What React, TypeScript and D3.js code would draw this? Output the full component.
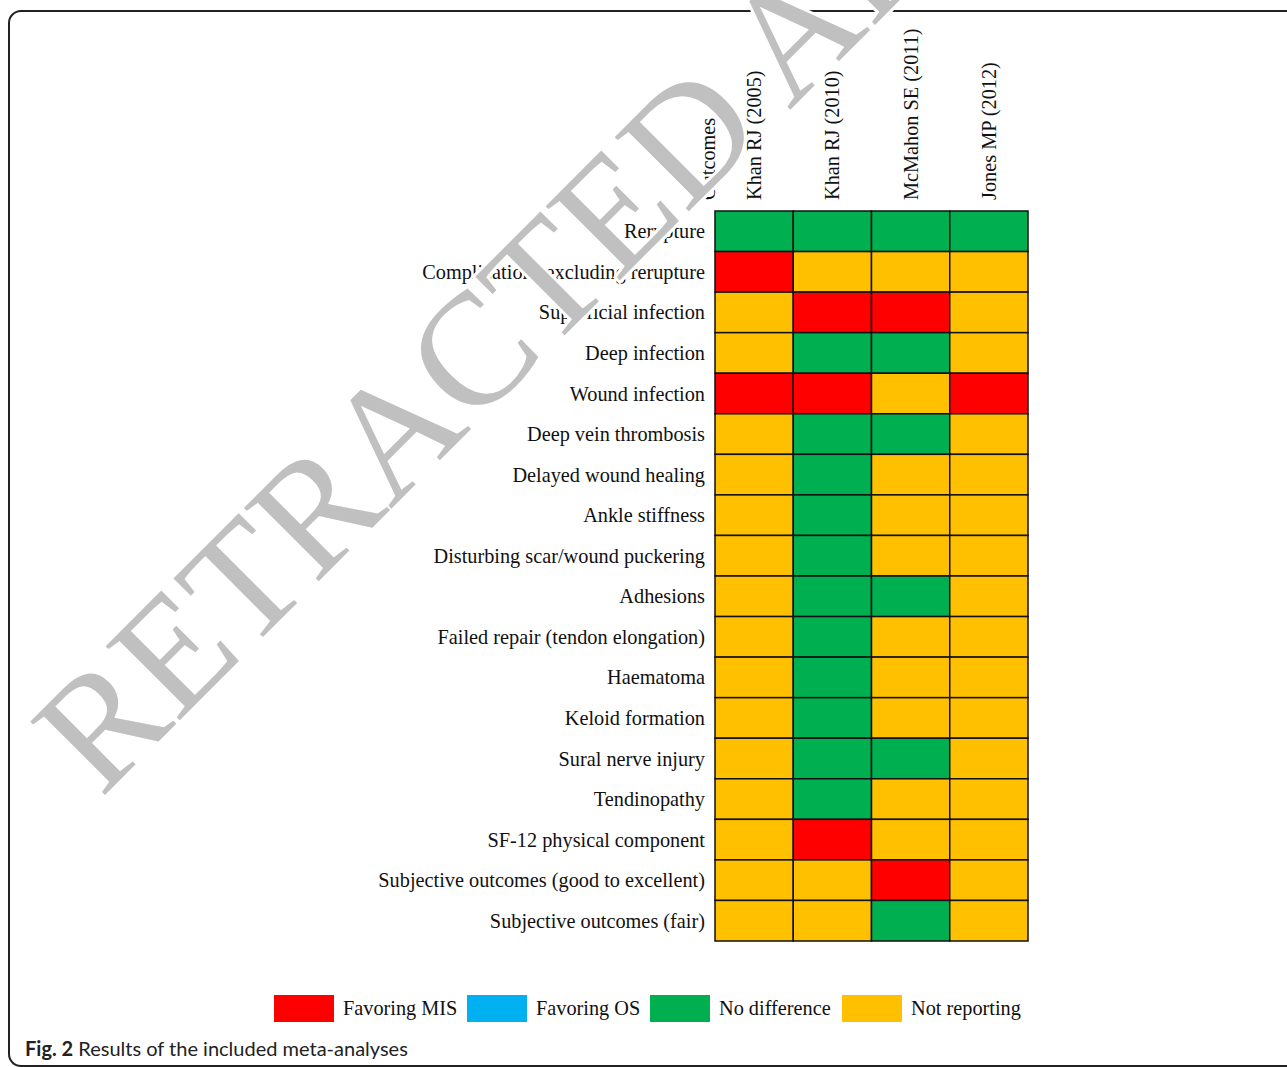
import React from "react";
import * as d3 from "d3";

const studies = ["Khan RJ (2005)", "Khan RJ (2010)", "McMahon SE (2011)", "Jones MP (2012)"];
const outcomes = [
  "Rerupture",
  "Complications excluding rerupture",
  "Superficial infection",
  "Deep infection",
  "Wound infection",
  "Deep vein thrombosis",
  "Delayed wound healing",
  "Ankle stiffness",
  "Disturbing scar/wound puckering",
  "Adhesions",
  "Failed repair (tendon elongation)",
  "Haematoma",
  "Keloid formation",
  "Sural nerve injury",
  "Tendinopathy",
  "SF-12 physical component",
  "Subjective outcomes (good to excellent)",
  "Subjective outcomes (fair)",
];
// M = Favoring MIS, O = Favoring OS, N = No difference, X = Not reporting
const results = [
  ["N", "N", "N", "N"],
  ["M", "X", "X", "X"],
  ["X", "M", "M", "X"],
  ["X", "N", "N", "X"],
  ["M", "M", "X", "M"],
  ["X", "N", "N", "X"],
  ["X", "N", "X", "X"],
  ["X", "N", "X", "X"],
  ["X", "N", "X", "X"],
  ["X", "N", "N", "X"],
  ["X", "N", "X", "X"],
  ["X", "N", "X", "X"],
  ["X", "N", "X", "X"],
  ["X", "N", "N", "X"],
  ["X", "N", "X", "X"],
  ["X", "M", "X", "X"],
  ["X", "X", "M", "X"],
  ["X", "X", "N", "X"],
];
const legendKeys = ["M", "O", "N", "X"];
const legendLabels = ["Favoring MIS", "Favoring OS", "No difference", "Not reporting"];
const legendColors = ["#FF0000", "#00B0F0", "#00B050", "#FFC000"];

const W = 1287;
const H = 1067;
const serif = "'Liberation Serif', 'Times New Roman', serif";
const fs = 20.3;

export default function App() {
  const x = d3.scaleBand<string>().domain(studies).range([715, 1028]);
  const y = d3.scaleBand<string>().domain(outcomes).range([211, 941]);
  const color = d3.scaleOrdinal<string, string>().domain(legendKeys).range(legendColors);
  const legendX = d3.scaleOrdinal<string, number>().domain(legendKeys).range([274, 467, 650, 842]);

  return (
    <svg width={W} height={H} style={{ position: "absolute", left: 0, top: 0, background: "#fff" }}>
      <rect x={9} y={11} width={1320} height={1055} rx={12} ry={12} fill="none" stroke="#222" strokeWidth={2} />
      {/* cells */}
      <g>
        {outcomes.map((o, i) =>
          studies.map((s, j) => (
            <rect
              key={o + s}
              x={x(s)}
              y={y(o)}
              width={x.bandwidth()}
              height={y.bandwidth()}
              fill={color(results[i][j])}
              stroke="#111"
              strokeWidth={1.5}
            />
          ))
        )}
      </g>
      {/* row labels */}
      <g fontFamily={serif} fontSize={fs} fill="#111" textAnchor="end">
        {outcomes.map((o) => (
          <text key={o} x={705} y={(y(o) as number) + y.bandwidth() / 2} dy="0.35em">
            {o}
          </text>
        ))}
      </g>
      {/* column headers */}
      <g fontFamily={serif} fontSize={fs} fill="#111">
        <text transform={`translate(${715},200) rotate(-90)`}>Outcomes</text>
        {studies.map((s) => (
          <text key={s} transform={`translate(${(x(s) as number) + x.bandwidth() / 2 + 7},200) rotate(-90)`}>
            {s}
          </text>
        ))}
      </g>
      {/* legend */}
      <g fontFamily={serif} fontSize={fs} fill="#111">
        {legendKeys.map((k, i) => (
          <g key={k}>
            <rect x={legendX(k)} y={995} width={60} height={27} fill={color(k)} />
            <text x={legendX(k) + 69} y={1015}>
              {legendLabels[i]}
            </text>
          </g>
        ))}
      </g>
      {/* watermark */}
      <text
        transform="translate(101,799) rotate(-45)"
        fontFamily={serif}
        fontSize={160}
        fill="#c0c0c0"
        stroke="#fff"
        strokeWidth={6}
        paintOrder="stroke"
      >
        RETRACTED ARTICLE
      </text>
      {/* caption */}
      <text x={25} y={1056} fontFamily="Lato, 'Open Sans', sans-serif" fontSize={20} fill="#222">
        <tspan fontWeight="bold">Fig. 2</tspan> Results of the included meta-analyses
      </text>
    </svg>
  );
}
